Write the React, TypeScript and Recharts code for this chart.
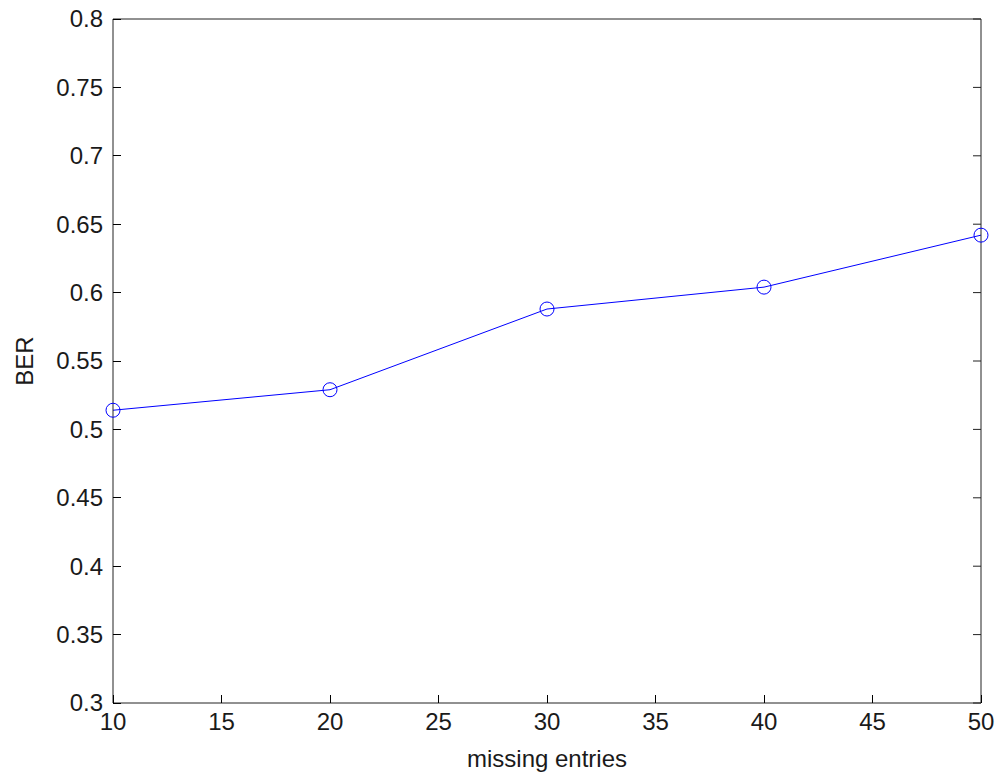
import { LineChart, Line, XAxis, YAxis } from "recharts";

const missingEntries = [10, 20, 30, 40, 50];
const berValues = [0.514, 0.529, 0.588, 0.604, 0.642];

const xTicks = [10, 15, 20, 25, 30, 35, 40, 45, 50];
const yTicks = [0.3, 0.35, 0.4, 0.45, 0.5, 0.55, 0.6, 0.65, 0.7, 0.75, 0.8];

const data = missingEntries.map((m, i) => ({ entries: m, ber: berValues[i] }));

const axisColor = "#222";
const textColor = "#1a1a1a";
const fontFamily = "'Liberation Sans', Arial, sans-serif";
const GAP = 10; // label distance from axis
const TICK = 8; // inward tick length

// tick lines only, no label
const NoLabel = () => <g />;

// label + inward tick line for the left axis
const YTick = (props: any) => {
  const { x, y, payload } = props;
  return (
    <g>
      <line
        x1={x + GAP}
        x2={x + GAP + TICK}
        y1={y}
        y2={y}
        stroke="#000"
        strokeWidth={1}
        shapeRendering="crispEdges"
      />
      <text x={x} y={y} dy="0.35em" textAnchor="end" fill={textColor} fontSize={24} fontFamily={fontFamily}>
        {payload.value}
      </text>
    </g>
  );
};

// label + inward tick line for the bottom axis
const XTick = (props: any) => {
  const { x, y, payload } = props;
  return (
    <g>
      <line
        x1={x}
        x2={x}
        y1={y - GAP}
        y2={y - GAP - TICK}
        stroke="#000"
        strokeWidth={1}
        shapeRendering="crispEdges"
      />
      <text x={x} y={y} dy="0.71em" textAnchor="middle" fill={textColor} fontSize={24} fontFamily={fontFamily}>
        {payload.value}
      </text>
    </g>
  );
};

export default function App() {
  return (
    <div style={{ position: "absolute", left: 0, top: 0, width: 1002, height: 782, background: "#fff" }}>
      <LineChart width={1002} height={782} data={data} margin={{ top: 19, right: 21, bottom: 0, left: 0 }}>
        <XAxis
          dataKey="entries"
          type="number"
          domain={[10, 50]}
          ticks={xTicks}
          height={79}
          tickLine={false}
          tickSize={0}
          tickMargin={GAP}
          stroke={axisColor}
          tick={XTick}
          label={{
            value: "missing entries",
            position: "insideBottom",
            offset: 15,
            style: { fill: textColor, fontSize: 24, fontFamily },
          }}
        />
        <YAxis
          type="number"
          domain={[0.3, 0.8]}
          ticks={yTicks}
          width={113}
          tickLine={false}
          tickSize={0}
          tickMargin={GAP}
          stroke={axisColor}
          tick={YTick}
          label={{
            value: "BER",
            angle: -90,
            position: "insideLeft",
            offset: 24,
            style: { textAnchor: "middle", fill: textColor, fontSize: 24, fontFamily },
          }}
        />
        {/* box frame with inward ticks */}
        <XAxis
          xAxisId="top"
          orientation="top"
          mirror
          type="number"
          domain={[10, 50]}
          ticks={xTicks}
          allowDataOverflow
          height={20}
          tickSize={TICK}
          tick={NoLabel}
          stroke={axisColor}
        />
        <YAxis
          yAxisId="right"
          orientation="right"
          mirror
          type="number"
          domain={[0.3, 0.8]}
          ticks={yTicks}
          allowDataOverflow
          width={20}
          tickSize={TICK}
          tick={NoLabel}
          stroke={axisColor}
        />
        <Line
          type="linear"
          dataKey="ber"
          stroke="#0000ff"
          strokeWidth={1}
          dot={{ r: 7, stroke: "#0000ff", strokeWidth: 1, fill: "none" }}
          isAnimationActive={false}
        />
      </LineChart>
    </div>
  );
}
